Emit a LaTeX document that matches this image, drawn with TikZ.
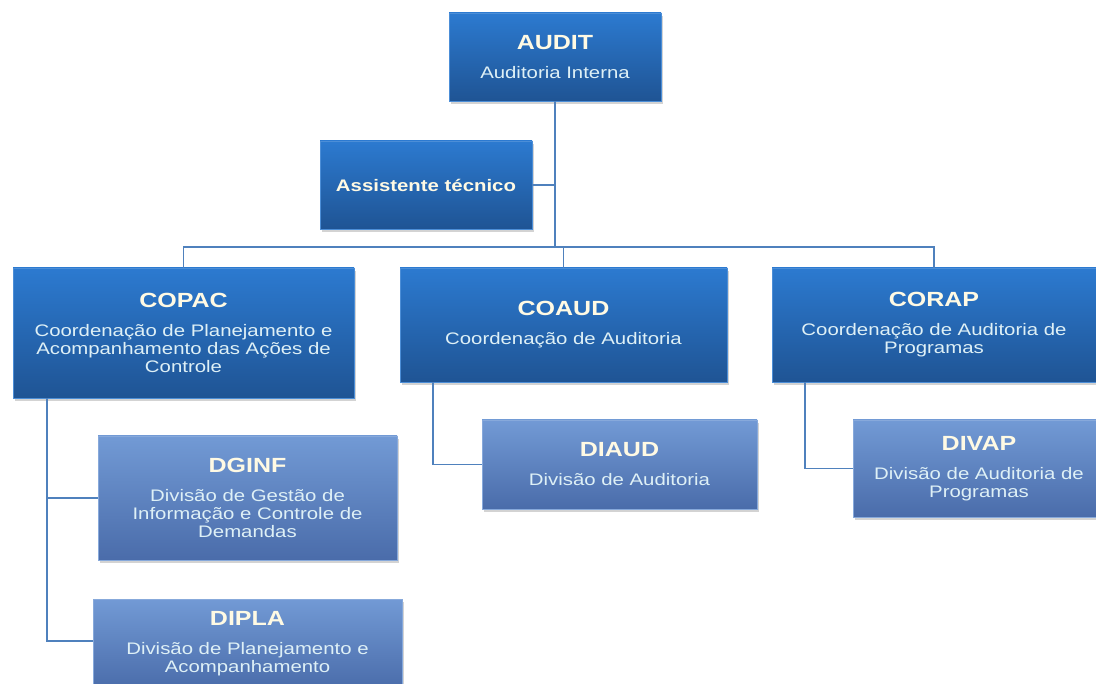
\documentclass[tikz,border=0pt]{standalone}
\usepackage{fontspec}
\newfontfamily\orgfont{Liberation Sans}[FakeStretch=1.22]
\usepackage{tikz}
\usetikzlibrary{calc,shadows}

\definecolor{linkblue}{RGB}{79,129,189}
\definecolor{boxtop}{RGB}{44,122,208}
\definecolor{boxbot}{RGB}{31,84,148}
\definecolor{subtop}{RGB}{114,154,213}
\definecolor{subbot}{RGB}{74,108,170}
\definecolor{ttlcol}{RGB}{255,250,228}
\definecolor{txtcol}{RGB}{222,240,246}

\newcommand{\ttl}[1]{{\fontsize{20.5}{22}\selectfont\bfseries\color{ttlcol}#1}}

\begin{document}
\begin{tikzpicture}[
    x=1pt, y=-1pt,
    unit/.style={inner sep=0pt, align=center, text=txtcol,
                 font=\orgfont\fontsize{16.7}{18}\selectfont,
                 drop shadow={shadow xshift=2pt, shadow yshift=-3pt, opacity=0.35}},
    top/.style={unit, top color=boxtop, bottom color=boxbot, draw=boxtop!85!white, line width=0.3pt},
    sub/.style={unit, top color=subtop, bottom color=subbot, draw=subtop!85!white, line width=0.3pt},
    link/.style={draw=linkblue, line width=1.3pt},
  ]
  \path[use as bounding box, clip] (0,0) rectangle (1096,684);

  % --- head and staff ---
  \node[top, minimum width=212, minimum height=88] (audit) at (555,57)
    {\ttl{AUDIT}\\[11pt]Auditoria Interna};
  \node[top, minimum width=212, minimum height=88] (asst) at (426,185)
    {\fontsize{16.7}{18}\selectfont\bfseries\color{ttlcol}Assistente técnico};

  % --- coordinations ---
  \node[top, minimum width=341, minimum height=130] (copac) at (183.5,333)
    {\ttl{COPAC}\\[11pt]Coordenação de Planejamento e\\Acompanhamento das Ações de\\Controle};
  \node[top, minimum width=327, minimum height=114] (coaud) at (563.5,325)
    {\ttl{COAUD}\\[11pt]Coordenação de Auditoria};
  \node[top, minimum width=324, minimum height=114] (corap) at (934,325)
    {\ttl{CORAP}\\[11pt]Coordenação de Auditoria de\\Programas};

  % --- divisions ---
  \node[sub, minimum width=299, minimum height=124] (dginf) at (247.5,498)
    {\ttl{DGINF}\\[11pt]Divisão de Gestão de\\Informação e Controle de\\Demandas};
  \node[sub, minimum width=309, minimum height=90] (dipla) at (247.5,644)
    {\ttl{DIPLA}\\[11pt]Divisão de Planejamento e\\Acompanhamento};
  \node[sub, minimum width=275, minimum height=89] (diaud) at (619.5,464.5)
    {\ttl{DIAUD}\\[11pt]Divisão de Auditoria};
  \node[sub, minimum width=252, minimum height=97] (divap) at (979,468.5)
    {\ttl{DIVAP}\\[11pt]Divisão de Auditoria de\\Programas};

  % --- connectors ---
  \coordinate (bus) at (555,247);
  \draw[link] (audit.south) -- (bus);
  \draw[link] (asst.east) -- (asst.east -| bus);
  \draw[link] (copac.north) |- (bus) -| (corap.north);
  \draw[link] (coaud.north) -- (coaud.north |- bus);

  \coordinate (copacleg) at ($(copac.south west)+(34,0)$);
  \draw[link] (copacleg) |- (dginf.west);
  \draw[link] (copacleg) |- ($(dipla.west)+(0,-3)$);
  \coordinate (coaudleg) at ($(coaud.south west)+(33,0)$);
  \draw[link] (coaudleg) |- (diaud.west);
  \coordinate (corapleg) at ($(corap.south west)+(33,0)$);
  \draw[link] (corapleg) |- (divap.west);
\end{tikzpicture}
\end{document}
